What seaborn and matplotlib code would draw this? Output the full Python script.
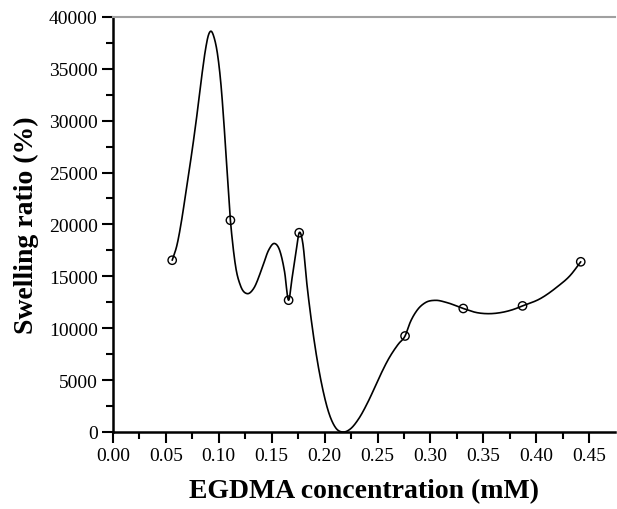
import numpy as np
import pandas as pd
import matplotlib
matplotlib.use("Agg")
import matplotlib.pyplot as plt
from matplotlib.ticker import MultipleLocator, FormatStrFormatter
import seaborn as sns

# measured data points (markers)
conc = [0.056, 0.111, 0.166, 0.176, 0.276, 0.331, 0.387, 0.442]
swelling = [16550, 20400, 12700, 19200, 9250, 11900, 12150, 16400]

# points read along the smooth connecting curve of the original figure
curve_x = [0.056, 0.0605, 0.0652, 0.0699, 0.0747, 0.0794, 0.0841, 0.0872, 0.0904,
           0.0926, 0.0957, 0.0989, 0.1021, 0.1052, 0.1077, 0.111, 0.1130, 0.1160,
           0.1204, 0.1267, 0.1329, 0.1408, 0.1471, 0.1527, 0.1580, 0.1622,
           0.166, 0.1692, 0.1730, 0.176, 0.1792, 0.1834, 0.1881, 0.1928, 0.1975,
           0.2038, 0.2101, 0.2180, 0.2243, 0.2321, 0.2416, 0.2510, 0.2605, 0.2699,
           0.276, 0.2810, 0.2873, 0.2952, 0.3046, 0.3157, 0.331, 0.3440, 0.3535,
           0.3661, 0.3786, 0.387, 0.4038, 0.4197, 0.4322, 0.442]
curve_y = [16550, 18000, 20580, 23800, 27024, 30560, 34425, 36686, 38290,
           38618, 37971, 36357, 33459, 29275, 25411, 20400, 18300, 15900,
           14135, 13333, 13816, 15749, 17517, 18164, 17362, 15430,
           12700, 14783, 17362, 19200, 18329, 14135, 10271, 7053, 4473,
           1903, 454, 0, 290, 1256, 3024, 5121, 7053, 8502,
           9250, 10599, 11720, 12464, 12686, 12464, 11900, 11498, 11401,
           11498, 11816, 12150, 12850, 13981, 15101, 16400]

x_ticks = [0.00, 0.05, 0.10, 0.15, 0.20, 0.25, 0.30, 0.35, 0.40, 0.45]
y_ticks = [0, 5000, 10000, 15000, 20000, 25000, 30000, 35000, 40000]


def smooth_hermite(xk, yk, xs):
    xk = np.asarray(xk, float); yk = np.asarray(yk, float)
    h = np.diff(xk); d = np.diff(yk) / h
    m = np.empty_like(yk)
    m[1:-1] = (h[1:] * d[:-1] + h[:-1] * d[1:]) / (h[:-1] + h[1:])
    m[0] = d[0]; m[-1] = d[-1]
    idx = np.clip(np.searchsorted(xk, xs) - 1, 0, len(xk) - 2)
    t = (xs - xk[idx]) / h[idx]
    h00 = 2 * t**3 - 3 * t**2 + 1; h10 = t**3 - 2 * t**2 + t
    h01 = -2 * t**3 + 3 * t**2; h11 = t**3 - t**2
    return h00 * yk[idx] + h10 * h[idx] * m[idx] + h01 * yk[idx + 1] + h11 * h[idx] * m[idx + 1]


sns.set_style("ticks")
plt.rcParams['font.family'] = ['Liberation Serif', 'DejaVu Serif']
plt.rcParams.update({'text.color': 'black', 'axes.labelcolor': 'black',
                     'xtick.color': 'black', 'ytick.color': 'black'})

xs = np.linspace(curve_x[0], curve_x[-1], 2000)
line_df = pd.DataFrame({"x": xs, "y": smooth_hermite(curve_x, curve_y, xs)})
pts_df = pd.DataFrame({"x": conc, "y": swelling})

fig = plt.figure(figsize=(6.17, 5.10), dpi=100)
ax = fig.add_axes([0.183, 0.151, 0.814, 0.814])

sns.lineplot(data=line_df, x="x", y="y", ax=ax, color="black", lw=1.2,
             estimator=None, sort=False)
sns.scatterplot(data=pts_df, x="x", y="y", ax=ax, marker="o", s=36,
                facecolor="none", edgecolor="black", linewidth=1.0, zorder=3)

ax.set_xlim(0, 0.4745)
ax.set_ylim(0, 40000)
ax.set_xticks(x_ticks)
ax.set_yticks(y_ticks)
ax.xaxis.set_major_formatter(FormatStrFormatter('%.2f'))
ax.xaxis.set_minor_locator(MultipleLocator(0.025))
ax.yaxis.set_minor_locator(MultipleLocator(2500))
ax.tick_params(which='major', length=8, width=1.5, labelsize=14, direction='out',
               pad=3, colors='black')
ax.tick_params(which='minor', length=5, width=1.5, direction='out', colors='black')

for side in ['left', 'bottom']:
    ax.spines[side].set_linewidth(1.8)
    ax.spines[side].set_color('black')
ax.spines['right'].set_visible(False)
ax.spines['top'].set_color('#a0a0a0')
ax.spines['top'].set_linewidth(1.5)

ax.set_xlabel("EGDMA concentration (mM)", fontsize=20, fontweight='bold',
              labelpad=10, color='black')
ax.set_ylabel("Swelling ratio (%)", fontsize=20, fontweight='bold',
              labelpad=7, color='black')

fig.savefig("out.png", dpi=100)
